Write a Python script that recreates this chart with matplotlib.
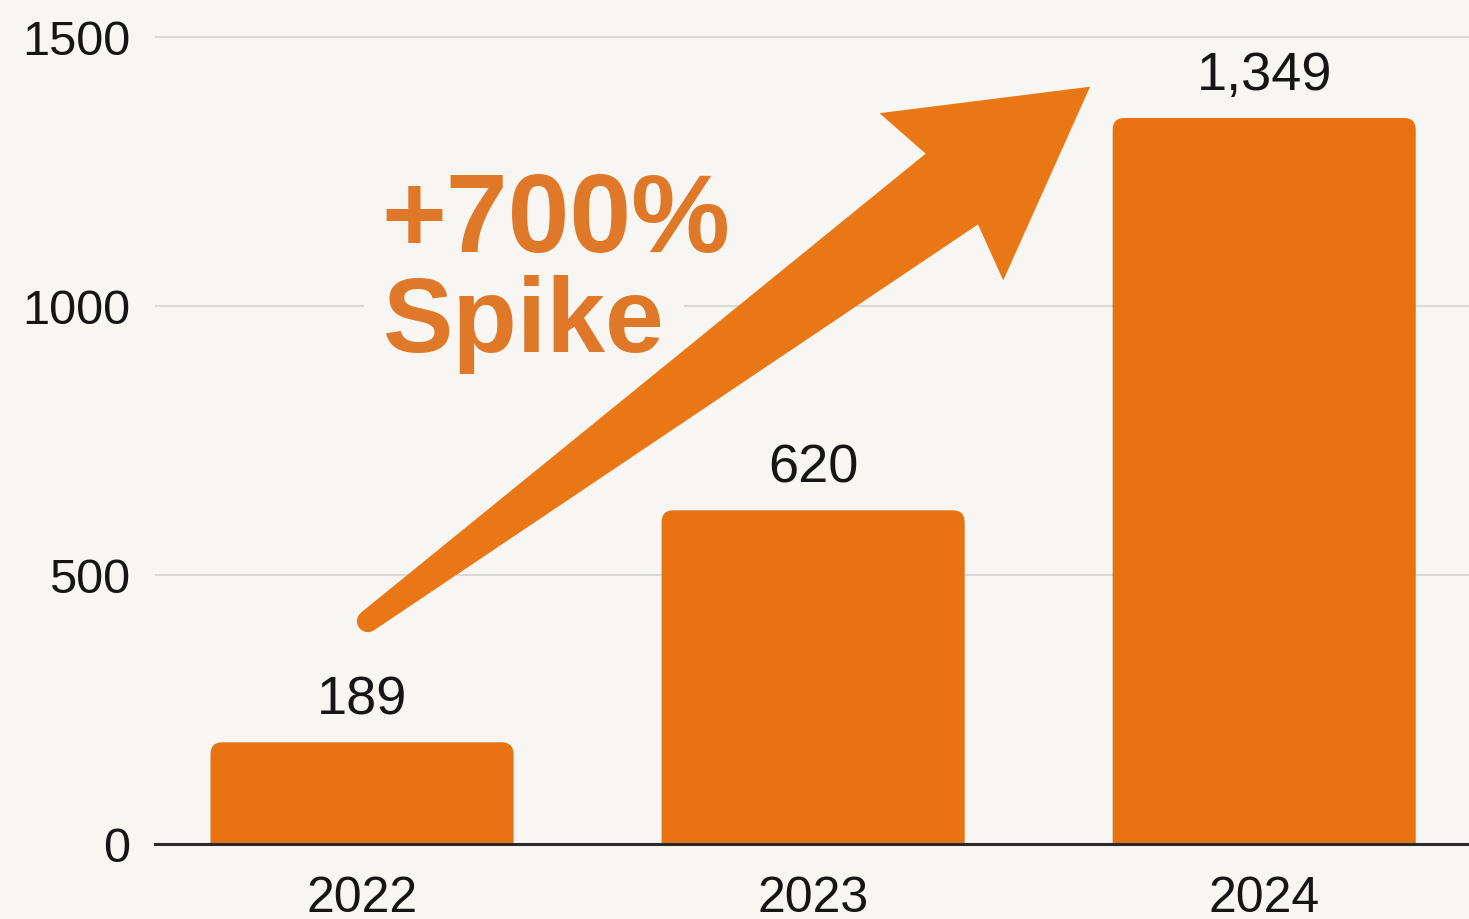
import numpy as np
import matplotlib
matplotlib.use("Agg")
import matplotlib.pyplot as plt
import matplotlib.patches as mpatches

years = ["2022", "2023", "2024"]
counts = [189, 620, 1349]
yticks = [0, 500, 1000, 1500]
callout_lines = ["+700%", "Spike"]

# arrow runs from just above the first bar up past the second one
arrow_tail = (0.013, 414)
arrow_tip = (1.614, 1407)

bg = "#F7F6F2"
bar_color = "#E87212"
arrow_color = "#EA7716"
callout_color = "#E0782A"

plt.rcParams["font.family"] = ["Liberation Sans", "DejaVu Sans"]

fig = plt.figure(figsize=(14.69, 9.2), dpi=100, facecolor=bg)
ax = fig.add_axes([155 / 1469, 1 - 845 / 920, 1 - 155 / 1469, 845 / 920])
ax.set_facecolor(bg)

x = np.arange(len(years))
ax.set_xlim(-0.459, 2.454)
ax.set_ylim(0, 1570)

bars = ax.bar(x, counts, width=0.672, color=bar_color, zorder=2)

# swap plain rectangles for ones with rounded tops
px_x = ax.transData.transform((1, 0))[0] - ax.transData.transform((0, 0))[0]
px_y = ax.transData.transform((0, 1))[1] - ax.transData.transform((0, 0))[1]
aspect = px_x / px_y
r = 12 / px_x
for rect in bars:
    rect.set_visible(False)
    fb = mpatches.FancyBboxPatch(
        (rect.get_x(), -40), rect.get_width(), rect.get_height() + 40,
        boxstyle=mpatches.BoxStyle("Round", pad=0, rounding_size=r),
        mutation_aspect=aspect, facecolor=bar_color, edgecolor="none",
        zorder=2, clip_on=True)
    ax.add_patch(fb)

for xi, v in zip(x, counts):
    ax.annotate(f"{v:,}", (xi, v), xytext=(0, 13), textcoords="offset points",
                ha="center", va="bottom", fontsize=39, color="#151515")

# grid + axis
ax.set_yticks(yticks)
ax.set_yticklabels([str(t) for t in yticks])
ax.set_xticks(x)
ax.set_xticklabels(years)
ax.grid(axis="y", color="#D8D8D6", linewidth=1.5, zorder=0)
ax.grid(axis="x", visible=False)
for s in ["top", "right", "left"]:
    ax.spines[s].set_visible(False)
ax.spines["bottom"].set_color("#2a2a2a")
ax.spines["bottom"].set_linewidth(2.2)
ax.spines["bottom"].set_zorder(3)
ax.tick_params(axis="y", length=0, pad=18, labelsize=35, labelcolor="#151515")
ax.tick_params(axis="x", length=0, pad=22, labelsize=36, labelcolor="#151515")

# tapered arrow built in pixel space, then mapped back to data coords
a = ax.transData.transform(arrow_tail)
b = ax.transData.transform(arrow_tip)
d = b - a
L = np.hypot(*d)
u = d / L
n = np.array([-u[1], u[0]])


def pt(s, t):
    return a + s * u + t * n


pts = [pt(0, 11), pt(L - 172, 44), pt(L - 185, 104), pt(L, 0),
       pt(L - 185, -104), pt(L - 172, -44), pt(0, -11)]
for ang in np.linspace(-np.pi / 2, -3 * np.pi / 2, 12)[1:-1]:
    pts.append(a + 11 * (np.cos(ang) * u + np.sin(ang) * n))
pts = ax.transData.inverted().transform(np.array(pts))
ax.add_patch(mpatches.Polygon(pts, closed=True, facecolor=arrow_color,
                              edgecolor="none", zorder=4))

ax.text(0.043, 1102, callout_lines[0], fontsize=80, fontweight="bold",
        color=callout_color, ha="left", va="baseline", zorder=3)
ax.text(0.047, 916, callout_lines[1], fontsize=76, fontweight="bold",
        color=callout_color, ha="left", va="baseline", zorder=3,
        bbox=dict(facecolor=bg, edgecolor="none", pad=14))

fig.savefig("out.png", dpi=100, facecolor=bg)
